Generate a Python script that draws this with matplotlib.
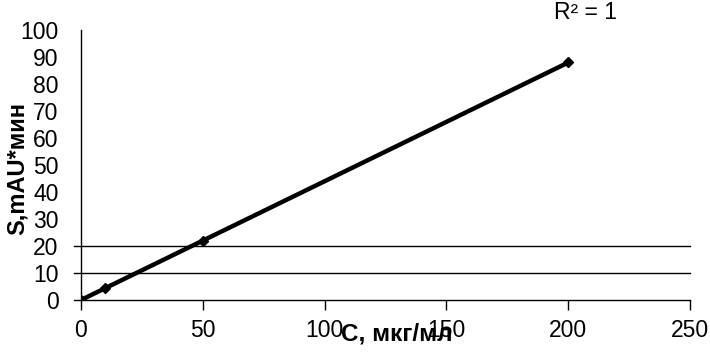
import matplotlib.pyplot as plt

# calibration data
conc = [0, 10, 50, 200]
area = [0, 4.4, 22, 88]
x_ticks = [0, 50, 100, 150, 200, 250]
y_ticks = [0, 10, 20, 30, 40, 50, 60, 70, 80, 90, 100]
grid_levels = [0, 10, 20]

plt.rcParams['font.family'] = ['Liberation Sans', 'DejaVu Sans']

fig = plt.figure(figsize=(7.1, 3.54), dpi=100)
ax = fig.add_axes([0.114, 0.1525, 0.858, 0.7625])

ax.plot(conc, area, color='black', lw=3.2, marker='D', ms=5, solid_capstyle='butt')

# horizontal lines reach a little past the y axis, like the original
for lvl in grid_levels:
    ax.axhline(lvl, xmin=-0.012, xmax=1, color='black', lw=1, clip_on=False)

ax.set_xlim(0, 250)
ax.set_ylim(0, 100)
ax.set_xticks(x_ticks)
ax.set_yticks(y_ticks)
ax.tick_params(axis='x', direction='out', length=7, width=1, labelsize=16.5, pad=7)
ax.tick_params(axis='y', length=0, labelsize=16.5, pad=16)

for s in ['top', 'right', 'bottom']:
    ax.spines[s].set_visible(False)
ax.spines['left'].set_linewidth(1)

fig.text(17 / 710, 0.525, 'S,mAU*мин', fontsize=17, fontweight='bold',
         rotation=90, ha='center', va='center')
fig.text(397 / 710, 1 - 334 / 354, 'C, мкг/мл', fontsize=17.5, fontweight='bold',
         ha='center', va='center')
fig.text(585 / 710, 1 - 1 / 354, 'R² = 1', fontsize=16.5, ha='center', va='top')

fig.savefig('out.png', dpi=100)
